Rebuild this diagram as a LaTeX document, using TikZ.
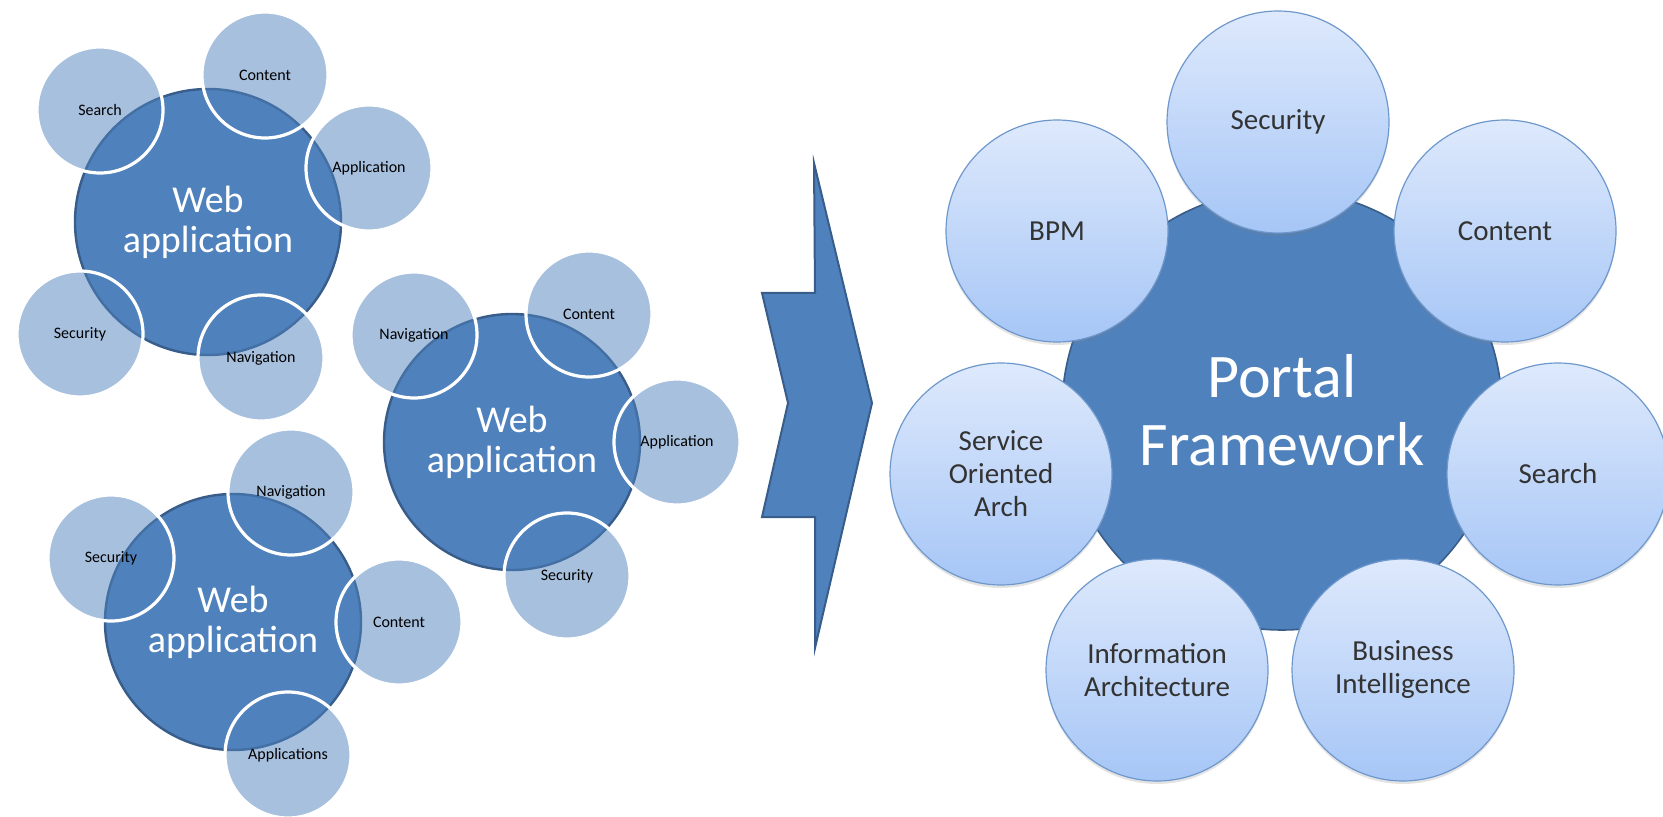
\documentclass[tikz,border=0pt]{standalone}
\usepackage{fontspec}
\setmainfont{Carlito}
\usetikzlibrary{shadows}
\definecolor{accent}{HTML}{4F81BD}
\definecolor{accentdark}{HTML}{385D8A}
\definecolor{rtop}{HTML}{DEE9FC}
\definecolor{rbot}{HTML}{A6C6F6}
\definecolor{rborder}{HTML}{6E98CC}
\definecolor{txtgray}{HTML}{333333}
\begin{document}
\begin{tikzpicture}[x=0.5pt,y=-0.5pt,
  hub/.style={circle, fill=accent, draw=accentdark, line width=1.2pt, text=white,
    align=center, inner sep=0pt, font=\fontsize{19}{20}\selectfont},
  petal/.style={circle, fill=accent, fill opacity=0.5, text opacity=1, draw=white,
    draw opacity=1, line width=1.6pt, minimum size=63pt, inner sep=0pt,
    text=black, font=\fontsize{8}{9}\selectfont},
  portal/.style={circle, fill=accent, draw=accentdark, line width=0.8pt, text=white,
    align=center, inner sep=0pt, minimum size=220pt, font=\fontsize{31}{34}\selectfont},
  sat/.style={circle, top color=rtop, bottom color=rbot, draw=rborder, line width=0.6pt,
    minimum size=111pt, inner sep=0pt, text=txtgray, align=center,
    font=\fontsize{14.5}{16.5}\selectfont,
    drop shadow={opacity=0.22, shadow xshift=0pt, shadow yshift=-1.5pt}},
  chevron/.style={fill=accent, draw=accentdark, line width=1pt, line join=miter}]
\useasboundingbox (0,0) rectangle (1663,817);

% group 1
\node[hub, minimum size=133pt] (w1) at (208,222) {Web\\application};
\node[petal] (w1s) at (100,110) {Search};
\node[petal] (w1c) at (265,75) {Content};
\node[petal] (w1a) at (369,168) {Application};
\node[petal] (w1y) at (80,334) {Security};
\node[petal] (w1n) at (261,358) {Navigation};

% group 2
\node[hub, minimum size=128pt] (w2) at (512,442) {Web\\application};
\node[petal] (w2n) at (414,335) {Navigation};
\node[petal] (w2c) at (589,314) {Content};
\node[petal] (w2a) at (677,442) {Application};
\node[petal] (w2y) at (567,576) {Security};

% group 3
\node[hub, minimum size=128pt] (w3) at (233,622) {Web\\application};
\node[petal] (w3n) at (291,492) {Navigation};
\node[petal] (w3y) at (111,558) {Security};
\node[petal] (w3c) at (399,622) {Content};
\node[petal] (w3p) at (288,755) {Applications};

% chevron arrow
\draw[chevron] (814,163) -- (872,403) -- (815,648) -- (815,517) -- (762,517)
  -- (788,403) -- (762,293) -- (815,293) -- cycle;

% portal
\node[portal] (pf) at (1282,410) {Portal\\Framework};
\node[sat] (sec) at (1278,122) {Security};
\node[sat] (bpm) at (1057,231) {BPM};
\node[sat] (soa) at (1001,474) {Service\\Oriented\\Arch};
\node[sat] (ia)  at (1157,670) {Information\\Architecture};
\node[sat] (bi)  at (1403,670) {Business\\Intelligence};
\node[sat] (sea) at (1558,474) {Search};
\node[sat] (con) at (1505,231) {Content};
\end{tikzpicture}
\end{document}
